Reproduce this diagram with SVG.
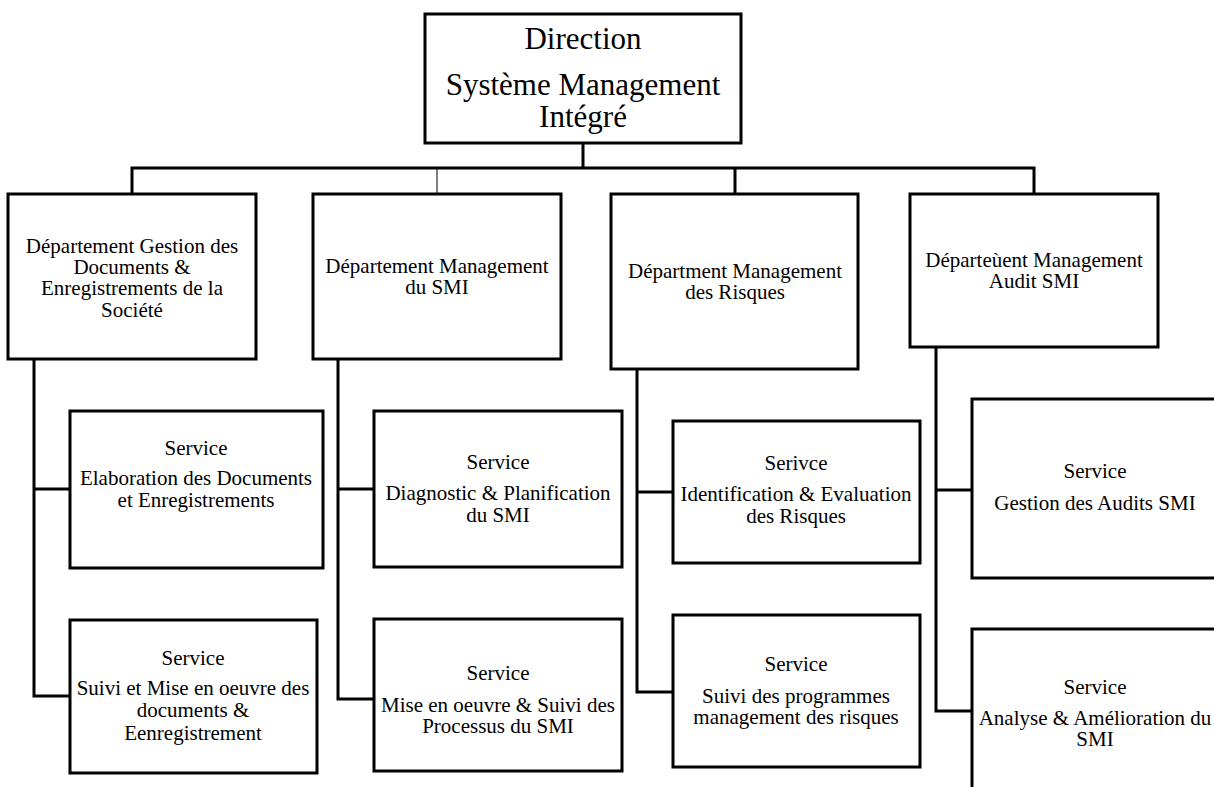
<svg xmlns="http://www.w3.org/2000/svg" width="1214" height="787" viewBox="0 0 1214 787">
  <style>
    .box { fill: #ffffff; stroke: #000000; stroke-width: 3; }
    .link { fill: none; stroke: #000000; stroke-width: 3; }
    .thin { fill: none; stroke: #000000; stroke-width: 1; }
    text { font-family: "Liberation Serif", "Times New Roman", serif; fill: #000000; text-anchor: middle; }
    .t1 { font-size: 31px; }
    .t2 { font-size: 21px; }
  </style>
  <rect width="1214" height="787" fill="#ffffff"/>

  <g id="connectors">
    <!-- direction to departments -->
    <path class="link" d="M583 143 V168"/>
    <path class="link" d="M132 194 V168 H1034 V194"/>
    <path class="link" d="M735 168 V194"/>
    <path class="thin" d="M437 168 V194"/>
    <!-- department to services -->
    <path class="link" d="M34 359 V696 H70 M34 489 H70"/>
    <path class="link" d="M338 359 V699 H374 M338 489 H374"/>
    <path class="link" d="M637 369 V692 H673 M637 492 H673"/>
    <path class="link" d="M936 347 V711 H972 M936 490 H972"/>
  </g>

  <g id="direction">
    <rect class="box" x="425" y="14" width="316" height="129"/>
    <text class="t1" x="583" y="49">Direction</text>
    <text class="t1" x="583" y="95">Système Management</text>
    <text class="t1" x="583" y="127">Intégré</text>
  </g>

  <g id="dept-documents">
    <rect class="box" x="8" y="194" width="248" height="165"/>
    <text class="t2" x="132" y="253">Département Gestion des</text>
    <text class="t2" x="132" y="274">Documents &amp;</text>
    <text class="t2" x="132" y="295">Enregistrements de la</text>
    <text class="t2" x="132" y="317">Société</text>
  </g>

  <g id="dept-smi">
    <rect class="box" x="313" y="194" width="248" height="165"/>
    <text class="t2" x="437" y="273">Département Management</text>
    <text class="t2" x="437" y="294">du SMI</text>
  </g>

  <g id="dept-risques">
    <rect class="box" x="611" y="194" width="247" height="175"/>
    <text class="t2" x="735" y="278">Départment Management</text>
    <text class="t2" x="735" y="299">des Risques</text>
  </g>

  <g id="dept-audit">
    <rect class="box" x="910" y="194" width="248" height="153"/>
    <text class="t2" x="1034" y="267">Départeùent Management</text>
    <text class="t2" x="1034" y="288">Audit SMI</text>
  </g>

  <g id="svc-elaboration">
    <rect class="box" x="70" y="411" width="253" height="157"/>
    <text class="t2" x="196" y="455">Service</text>
    <text class="t2" x="196" y="485">Elaboration des Documents</text>
    <text class="t2" x="196" y="507">et Enregistrements</text>
  </g>

  <g id="svc-suivi-documents">
    <rect class="box" x="70" y="620" width="247" height="153"/>
    <text class="t2" x="193" y="665">Service</text>
    <text class="t2" x="193" y="695">Suivi et Mise en oeuvre des</text>
    <text class="t2" x="193" y="717">documents &amp;</text>
    <text class="t2" x="193" y="740">Eenregistrement</text>
  </g>

  <g id="svc-diagnostic">
    <rect class="box" x="374" y="411" width="248" height="156"/>
    <text class="t2" x="498" y="469">Service</text>
    <text class="t2" x="498" y="500">Diagnostic &amp; Planification</text>
    <text class="t2" x="498" y="522">du SMI</text>
  </g>

  <g id="svc-processus">
    <rect class="box" x="374" y="619" width="248" height="152"/>
    <text class="t2" x="498" y="680">Service</text>
    <text class="t2" x="498" y="712">Mise en oeuvre &amp; Suivi des</text>
    <text class="t2" x="498" y="733">Processus du SMI</text>
  </g>

  <g id="svc-identification">
    <rect class="box" x="673" y="421" width="247" height="142"/>
    <text class="t2" x="796" y="470">Serivce</text>
    <text class="t2" x="796" y="501">Identification &amp; Evaluation</text>
    <text class="t2" x="796" y="523">des Risques</text>
  </g>

  <g id="svc-programmes">
    <rect class="box" x="673" y="615" width="247" height="152"/>
    <text class="t2" x="796" y="671">Service</text>
    <text class="t2" x="796" y="703">Suivi des programmes</text>
    <text class="t2" x="796" y="724">management des risques</text>
  </g>

  <g id="svc-audits">
    <rect class="box" x="972" y="399" width="248" height="179"/>
    <text class="t2" x="1095" y="478">Service</text>
    <text class="t2" x="1095" y="510">Gestion des Audits SMI</text>
  </g>

  <g id="svc-amelioration">
    <rect class="box" x="972" y="629" width="248" height="180"/>
    <text class="t2" x="1095" y="694">Service</text>
    <text class="t2" x="1095" y="725">Analyse &amp; Amélioration du</text>
    <text class="t2" x="1095" y="746">SMI</text>
  </g>
</svg>
